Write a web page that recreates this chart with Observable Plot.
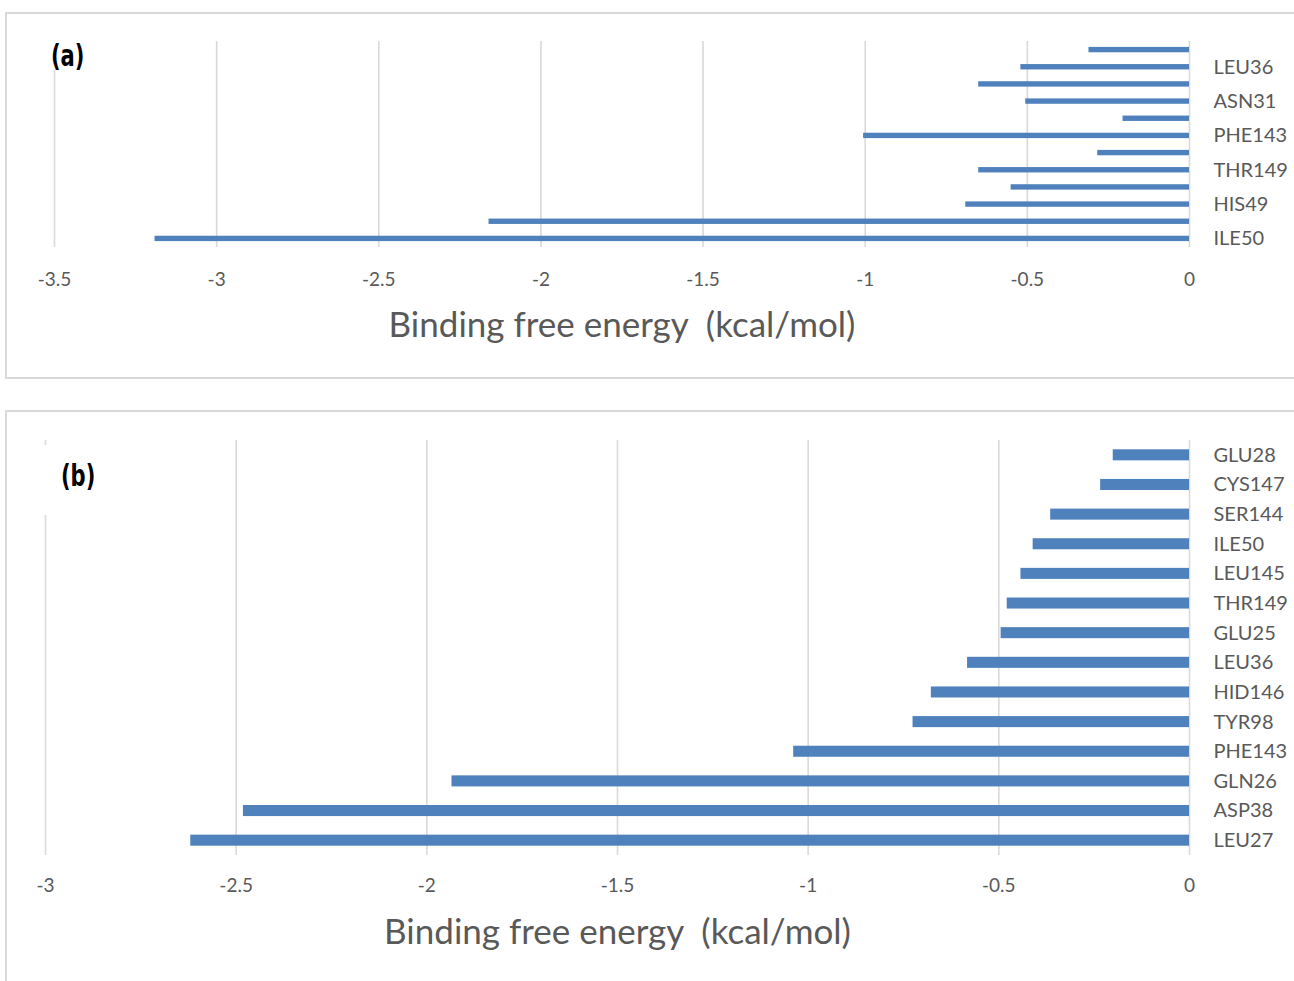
<!DOCTYPE html>
<html>
<head>
<meta charset="utf-8">
<script src="https://cdn.jsdelivr.net/npm/d3@7"></script>
<script src="https://cdn.jsdelivr.net/npm/@observablehq/plot@0.6"></script>
<style>
  html, body { margin: 0; padding: 0; background: #fff; }
  #page { position: relative; width: 1294px; height: 981px; overflow: hidden; background: #fff; }
  .panel { position: absolute; border: 2px solid #d9d9d9; box-sizing: border-box; }
  .plotwrap { position: absolute; left: 0; }
  .plotwrap svg { white-space: pre; }
  .tagbox { position: absolute; background: #fff; }
  .tag { position: absolute; font-family: "DejaVu Sans", sans-serif; font-stretch: condensed; font-weight: bold;
         font-size: 30px; line-height: 34px; color: #000; transform: scaleX(0.78); transform-origin: left center; white-space: nowrap; }
</style>
</head>
<body>
<div id="page">
  <div class="panel" style="left:5px; top:12px; width:1300px; height:367px;"></div>
  <div class="panel" style="left:5px; top:410px; width:1300px; height:600px;"></div>
  <div class="plotwrap" id="plotA" style="top:0px;"></div>
  <div class="plotwrap" id="plotB" style="top:390px;"></div>
  <div class="tagbox" style="left:46px; top:38px; width:44px; height:32px;"></div>
  <div class="tag" style="left:51px; top:39px;">(a)</div>
  <div class="tagbox" style="left:38px; top:445px; width:70px; height:70px;"></div>
  <div class="tag" style="left:61px; top:459px;">(b)</div>
</div>
<script>
// ---- Panel (a) data (top to bottom) ----
const residuesA = ["unlabeled-1", "LEU36", "unlabeled-2", "ASN31", "unlabeled-3", "PHE143",
                   "unlabeled-4", "THR149", "unlabeled-5", "HIS49", "unlabeled-6", "ILE50"];
const energiesA = [-0.31, -0.52, -0.65, -0.505, -0.205, -1.005, -0.283, -0.65, -0.55, -0.69, -2.16, -3.19];
const labeledA = ["LEU36", "ASN31", "PHE143", "THR149", "HIS49", "ILE50"];
const ticksA = [-3.5, -3, -2.5, -2, -1.5, -1, -0.5, 0];

// ---- Panel (b) data (top to bottom) ----
const residuesB = ["GLU28", "CYS147", "SER144", "ILE50", "LEU145", "THR149", "GLU25",
                   "LEU36", "HID146", "TYR98", "PHE143", "GLN26", "ASP38", "LEU27"];
const energiesB = [-0.20, -0.233, -0.364, -0.41, -0.442, -0.478, -0.494,
                   -0.582, -0.677, -0.725, -1.038, -1.934, -2.481, -2.619];
const ticksB = [-3, -2.5, -2, -1.5, -1, -0.5, 0];

const axisTitle = "Binding free energy  (kcal/mol)";
const barColor = "#4f81bd";
const gridColor = "#d9d9d9";
const textColor = "#595959";
const fontFam = "Lato, 'Open Sans', sans-serif";

function makeChart(residues, energies, ticks, yTicks, opts) {
  const data = residues.map((r, i) => ({residue: r, energy: energies[i]}));
  const marks = [
    Plot.gridX(ticks, {stroke: gridColor, strokeOpacity: 1, strokeWidth: 1.6})
  ];
  if (opts.catTicks) {
    // small category boundary tick marks on the vertical axis (Excel style)
    marks.push(
      Plot.tickY(residues, {y: d => d, x1: 0, x2: 0, stroke: gridColor, strokeWidth: 1.6,
                            dx: 0, dy: -opts.step / 2, marker: null}),
      Plot.tickY([residues[residues.length - 1]], {y: d => d, stroke: gridColor, strokeWidth: 1.6,
                            dy: opts.step / 2})
    );
  }
  marks.push(
    Plot.barX(data, {y: "residue", x1: 0, x2: "energy", fill: barColor,
                     insetTop: opts.inset, insetBottom: opts.inset}),
    Plot.axisX(ticks, {anchor: "bottom", tickSize: 0, tickPadding: opts.tickPad,
                       tickFormat: d => String(d), fontSize: 19, color: textColor, label: null}),
    Plot.axisY(yTicks, {anchor: "right", tickSize: 0, tickPadding: 24, textAnchor: "start",
                        fontSize: 20, color: textColor, label: null}),
    Plot.text([axisTitle], {frameAnchor: "bottom", dy: opts.titleDy, fontSize: 35,
                            fill: textColor, lineAnchor: "middle"})
  );
  return Plot.plot({
    width: 1294,
    height: opts.height,
    marginLeft: opts.marginLeft,
    marginRight: 105,
    marginTop: opts.marginTop,
    marginBottom: opts.marginBottom,
    style: {fontFamily: fontFam, background: "transparent", overflow: "visible"},
    x: {domain: [ticks[0], 0], ticks: ticks},
    y: {domain: residues, padding: 0, round: false},
    marks
  });
}

document.getElementById("plotA").append(
  makeChart(residuesA, energiesA, ticksA, labeledA,
    {height: 390, marginLeft: 54, marginTop: 41, marginBottom: 143, inset: 5.9, tickPad: 25, titleDy: 78,
     catTicks: false, step: 206 / 12})
);
document.getElementById("plotB").append(
  makeChart(residuesB, energiesB, ticksB, residuesB,
    {height: 591, marginLeft: 45, marginTop: 50, marginBottom: 126, inset: 9.3, tickPad: 23, titleDy: 77,
     catTicks: false, step: 415 / 14})
);
</script>
</body>
</html>
